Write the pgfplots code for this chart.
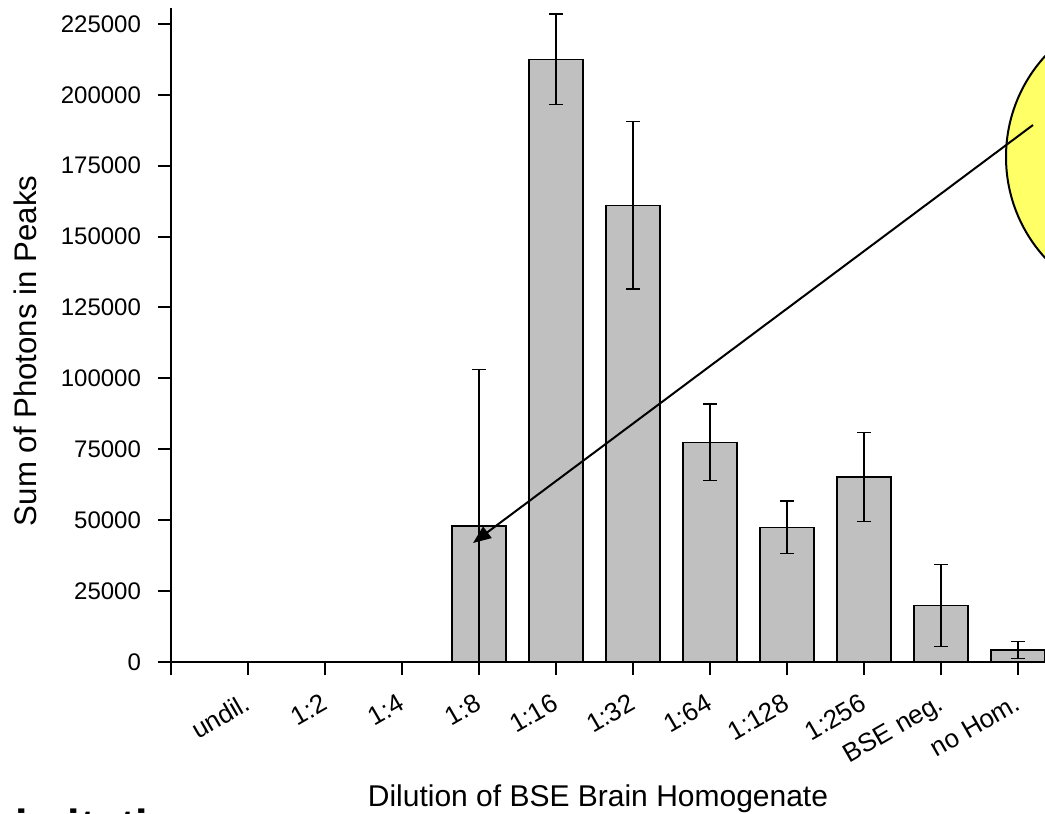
\documentclass[border=0pt]{standalone}
\usepackage{pgfplots}
\pgfplotsset{compat=1.18}
\usepackage{fontspec}
\setmainfont{Liberation Sans}
\usetikzlibrary{arrows.meta}
\definecolor{barfill}{RGB}{192,192,192}
\definecolor{noteyellow}{RGB}{255,255,102}
\begin{document}
\begin{tikzpicture}
\useasboundingbox (0,0) rectangle (522.5pt,-407pt);
\clip (0,0) rectangle (522.5pt,-407pt);
\begin{axis}[
  at={(85.5pt,-331pt)}, anchor=south west,
  scale only axis, width=450.45pt, height=327pt,
  xmin=0, xmax=11.7, ymin=0, ymax=230600,
  axis lines*=left,
  axis line style={line width=1pt},
  tick style={line width=1pt, black},
  tick align=outside,
  major tick length=6.5pt,
  xtick={0,...,11},
  xticklabels={,undil.,1:2,1:4,1:8,1:16,1:32,1:64,1:128,1:256,BSE neg.,no Hom.},
  ytick={0,25000,...,225000},
  yticklabels={0,25000,50000,75000,100000,125000,150000,175000,200000,225000},
  scaled y ticks=false,
  tick label style={font=\fontsize{12}{14}\selectfont},
  xticklabel style={font=\fontsize{13}{15}\selectfont, xshift=5pt, yshift=-15pt, rotate=30, anchor=base east},
  yticklabel style={xshift=-5pt},
  xlabel={Dilution of BSE Brain Homogenate},
  xlabel style={font=\fontsize{15}{18}\selectfont, at={([yshift=-72.25pt]axis cs:5.545,0)}, anchor=base},
  ylabel={Sum of Photons in Peaks},
  ylabel style={font=\fontsize{15.6}{18}\selectfont, at={([xshift=-67pt]axis cs:0,109700)}, anchor=base},
  ybar, bar width=27pt,
]
\addplot[draw=black, line width=0.7pt, fill=barfill,
  error bars/.cd, y dir=both, y explicit,
  error bar style={line width=0.6pt, black},
  error mark options={rotate=90, mark size=3.5pt, line width=0.6pt, black}]
  coordinates {
  (1,0) +- (0,0)
  (2,0) +- (0,0)
  (3,0) +- (0,0)
  (4,48000) +- (0,55000)
  (5,212500) +- (0,16000)
  (6,161000) +- (0,29500)
  (7,77500) +- (0,13500)
  (8,47500) +- (0,9300)
  (9,65300) +- (0,15700)
  (10,20000) +- (0,14500)
  (11,4200) +- (0,3000)
  };
\end{axis}
\draw[line width=1pt, fill=noteyellow] (577pt,-78.5pt) ellipse [x radius=74pt, y radius=74.5pt];
\draw[line width=1pt, -{Triangle[length=9pt,width=7pt]}] (516.5pt,-62.5pt) -- (236.5pt,-271.5pt);
\node[anchor=base west, inner sep=0pt, font=\fontsize{22.5}{26}\selectfont\bfseries] at (-6.25pt,-420.8pt) {Limitations:};
\end{tikzpicture}
\end{document}
